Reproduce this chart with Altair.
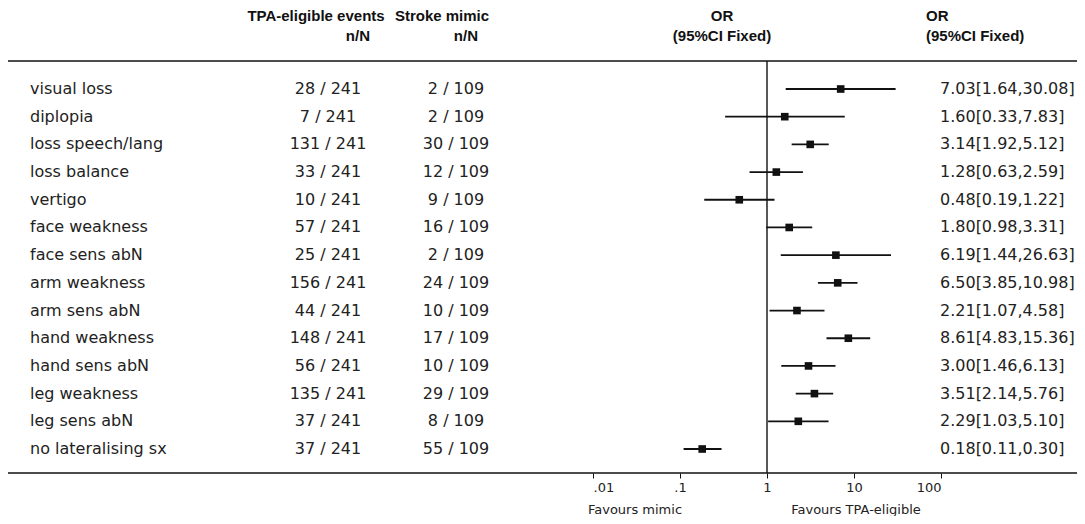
import altair as alt
import pandas as pd

SYMPTOMS = ["visual loss", "diplopia", "loss speech/lang", "loss balance", "vertigo",
            "face weakness", "face sens abN", "arm weakness", "arm sens abN",
            "hand weakness", "hand sens abN", "leg weakness", "leg sens abN",
            "no lateralising sx"]
TPA_EVENTS = [28, 7, 131, 33, 10, 57, 25, 156, 44, 148, 56, 135, 37, 37]
TPA_TOTAL = 241
MIMIC_EVENTS = [2, 2, 30, 12, 9, 16, 2, 24, 10, 17, 10, 29, 8, 55]
MIMIC_TOTAL = 109
ODDS = [7.03, 1.60, 3.14, 1.28, 0.48, 1.80, 6.19, 6.50, 2.21, 8.61, 3.00, 3.51, 2.29, 0.18]
CI_LO = [1.64, 0.33, 1.92, 0.63, 0.19, 0.98, 1.44, 3.85, 1.07, 4.83, 1.46, 2.14, 1.03, 0.11]
CI_HI = [30.08, 7.83, 5.12, 2.59, 1.22, 3.31, 26.63, 10.98, 4.58, 15.36, 6.13, 5.76, 5.10, 0.30]
TICK_VALUES = [0.01, 0.1, 1, 10, 100]
TICK_LABELS = [".01", ".1", "1", "10", "100"]

df = pd.DataFrame({
    "symptom": SYMPTOMS,
    "tpa": [f"{n} / {TPA_TOTAL}" for n in TPA_EVENTS],
    "mimic": [f"{n} / {MIMIC_TOTAL}" for n in MIMIC_EVENTS],
    "or": ODDS,
    "lo": CI_LO,
    "hi": CI_HI,
    "ortxt": [f"{o:.2f}[{l:.2f},{h:.2f}]" for o, l, h in zip(ODDS, CI_LO, CI_HI)],
})

FONT = "DejaVu Sans"
HFONT = "Liberation Sans"
INK = "#111111"
TXT = "#222222"
W, H = 1069, 465

label_expr = " : ".join(f"datum.value == {v} ? '{l}'" for v, l in zip(TICK_VALUES, TICK_LABELS)) + " : datum.label"
xscale = alt.Scale(type="log", domain=[0.01, 100], range=[585, 933])
xaxis = alt.Axis(values=TICK_VALUES, labelExpr=label_expr, domain=False, grid=False,
                 tickSize=5, tickColor=INK, tickWidth=1, labelFont=FONT, labelFontSize=13,
                 labelColor=TXT, labelPadding=3, title=None)
yenc = alt.Y("symptom:N", sort=SYMPTOMS, axis=None,
             scale=alt.Scale(type="point", range=[81, 441], padding=0))

base = alt.Chart(df)
ci = base.mark_rule(color=INK, strokeWidth=1.8).encode(
    x=alt.X("lo:Q", scale=xscale, axis=xaxis), x2="hi:Q", y=yenc)
sq = base.mark_square(size=58, color=INK, opacity=1).encode(
    x=alt.X("or:Q", scale=xscale, axis=xaxis), y=yenc)

def col(field, x, align):
    return base.mark_text(align=align, baseline="middle", font=FONT, fontSize=16, color=TXT).encode(
        x=alt.value(x), y=yenc, text=f"{field}:N")

lab = col("symptom", 22, "left")
tpa = col("tpa", 320, "center")
mim = col("mimic", 448, "center")
ort = col("ortxt", 932, "left")

vline = alt.Chart(pd.DataFrame({"v": [1]})).mark_rule(color=INK, strokeWidth=1.4).encode(
    x=alt.X("v:Q", scale=xscale, axis=xaxis), y=alt.value(53), y2=alt.value(H))
top = alt.Chart(pd.DataFrame({"a": [0]})).mark_rule(color=INK, strokeWidth=1.4).encode(
    x=alt.value(0), x2=alt.value(W), y=alt.value(53))
bot = alt.Chart(pd.DataFrame({"a": [0]})).mark_rule(color=INK, strokeWidth=1.4).encode(
    x=alt.value(0), x2=alt.value(W), y=alt.value(H))

def htxt(t, x, y, align="center", bold=True, size=15, font=HFONT):
    return alt.Chart(pd.DataFrame({"a": [0]})).mark_text(
        text=t, align=align, baseline="middle", font=font, fontSize=size,
        fontWeight="bold" if bold else "normal", color=INK if bold else TXT).encode(
        x=alt.value(x), y=alt.value(y))

headers = [
    htxt("TPA-eligible events", 308, 8),
    htxt("n/N", 362, 28, "right"),
    htxt("Stroke mimic", 434, 8),
    htxt("n/N", 470, 28, "right"),
    htxt("OR", 714, 8),
    htxt("(95%CI Fixed)", 714, 28),
    htxt("OR", 918, 8, "left"),
    htxt("(95%CI Fixed)", 918, 28, "left"),
    htxt("Favours mimic", 627, 502, bold=False, size=13, font=FONT),
    htxt("Favours TPA-eligible", 848, 502, bold=False, size=13, font=FONT),
]

chart = alt.layer(top, bot, vline, ci, sq, lab, tpa, mim, ort, *headers).properties(
    width=W, height=H, autosize=alt.AutoSizeParams(type="none"),
    padding={"left": 0, "top": 0, "right": 0, "bottom": 43},
    background="white",
).configure_view(stroke=None)

chart.save("out.html", embed_options={"renderer": "svg", "actions": False})
